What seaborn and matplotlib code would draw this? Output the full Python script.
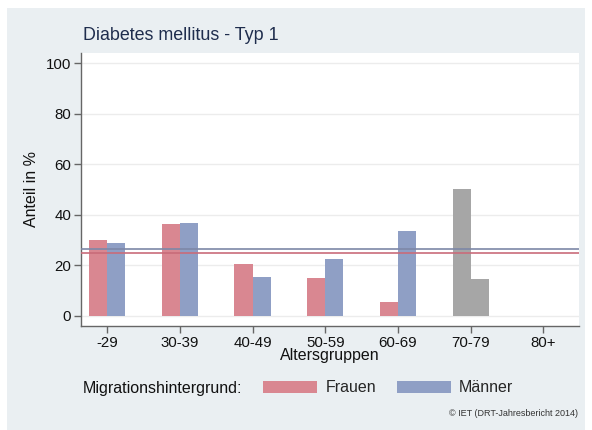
import numpy as np
import pandas as pd
import matplotlib
matplotlib.use("Agg")
import matplotlib.pyplot as plt
from matplotlib.patches import Rectangle
import seaborn as sns

# ---- data ----
altersgruppen = ["-29", "30-39", "40-49", "50-59", "60-69", "70-79", "80+"]
frauen = [30.2, 36.5, 20.6, 14.9, 5.4, 50.0, np.nan]
maenner = [28.7, 36.8, 15.4, 22.5, 33.4, 14.4, np.nan]
gesamt_frauen = 24.8
gesamt_maenner = 26.4
gray_groups = ["70-79"]
yticks = [0, 20, 40, 60, 80, 100]

col_f = "#d98791"
col_m = "#8f9fc5"
col_gray = "#a6a6a6"
bg = "#eaeff2"

df = pd.DataFrame({
    "Altersgruppe": altersgruppen * 2,
    "Geschlecht": ["Frauen"] * len(altersgruppen) + ["Männer"] * len(altersgruppen),
    "Anteil": frauen + maenner,
})

sns.set_theme(style="white")
plt.rcParams["font.family"] = ["Liberation Sans", "DejaVu Sans"]

W, H = 592, 430
fig = plt.figure(figsize=(W / 100, H / 100), dpi=100)
fig.patch.set_facecolor("white")
fig.patches.append(Rectangle((7 / W, 0), 1 - 14 / W, 1 - 8 / H, transform=fig.transFigure,
                             facecolor=bg, edgecolor="none", zorder=-10))

ax = fig.add_axes([81 / W, 1 - 326 / H, (579 - 81) / W, (326 - 53) / H])
ax.set_facecolor("white")

sns.barplot(data=df, x="Altersgruppe", y="Anteil", hue="Geschlecht",
            order=altersgruppen, hue_order=["Frauen", "Männer"],
            palette=[col_f, col_m], width=0.5, saturation=1,
            edgecolor="none", linewidth=0, ax=ax, zorder=3)

# recolor gray groups
gray_idx = [altersgruppen.index(g) for g in gray_groups]
for cont in ax.containers:
    for bar in cont:
        cx = bar.get_x() + bar.get_width() / 2
        if int(round(cx)) in gray_idx:
            bar.set_facecolor(col_gray)

ax.axhline(gesamt_maenner, color="#7d87a7", lw=1.2, zorder=4)
ax.axhline(gesamt_frauen, color="#c96c7a", lw=1.2, zorder=4)

ax.set_ylim(-4, 104)
ax.set_xlim(-0.36, 6.49)
ax.set_yticks(yticks)
ax.set_yticklabels([str(t) for t in yticks])
for t in yticks:
    ax.axhline(t, color="#ececec", lw=1.0, zorder=0)

for s in ["top", "right"]:
    ax.spines[s].set_visible(False)
for s in ["left", "bottom"]:
    ax.spines[s].set_color("#666666")
    ax.spines[s].set_linewidth(1.0)

ax.tick_params(axis="both", which="both", direction="out", length=5, width=1,
               color="#666666", labelsize=10.8, labelcolor="#111111", left=True, bottom=True, pad=2)
ax.set_xlabel("Altersgruppen", fontsize=11.5, color="#111111", labelpad=-1)
ax.set_ylabel("Anteil in %", fontsize=11.5, color="#111111", labelpad=5)

# legend
handles, labels = ax.get_legend_handles_labels()
ax.get_legend().remove()
for h in handles:
    h.set_edgecolor("none")
fig.text(83 / W, 1 - 388 / H, "Migrationshintergrund:", fontsize=11.5, color="#111111",
         ha="left", va="center")
fig.legend(handles, labels, loc="center left", bbox_to_anchor=(263 / W, 1 - 388 / H),
           ncol=2, frameon=False, fontsize=11.5, handlelength=3.4, handleheight=0.8,
           handletextpad=0.5, columnspacing=1.3, borderpad=0, borderaxespad=0)

fig.text(83 / W, 1 - 35 / H, "Diabetes mellitus - Typ 1", fontsize=12.9, color="#1f2d4d",
         ha="left", va="center")
fig.text(578 / W, 1 - 413 / H, "© IET (DRT-Jahresbericht 2014)", fontsize=6.5, color="#333333",
         ha="right", va="center")

fig.savefig("out.png", dpi=100, facecolor=fig.get_facecolor())
